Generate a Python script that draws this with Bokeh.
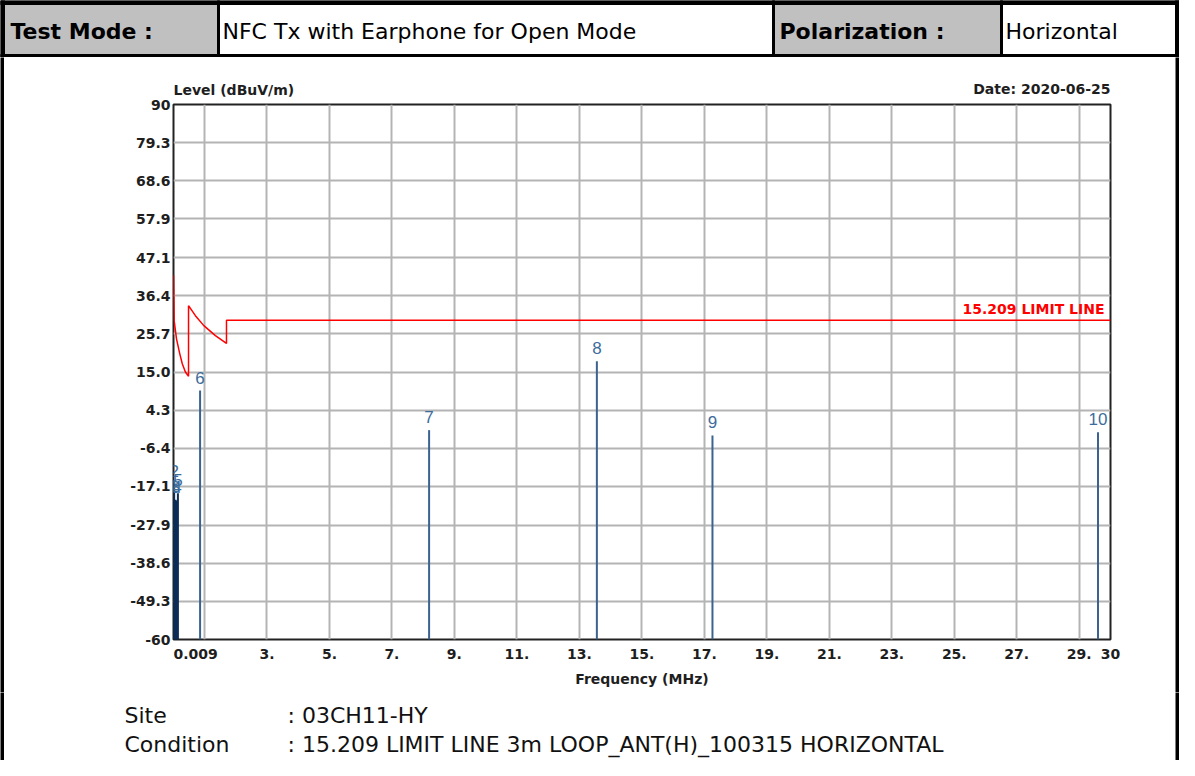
from bokeh.plotting import figure
from bokeh.layouts import column, row
from bokeh.models import Range1d, FixedTicker, Label, CustomJSTickFormatter
from bokeh.core.properties import value
from bokeh.embed import file_html
from bokeh.resources import INLINE

# ---------------- data ----------------
marker_ids = ["1", "2", "3", "4", "5", "6", "7", "8", "9", "10"]
marker_freq = [0.010, 0.030, 0.070, 0.120, 0.150, 0.86, 8.19, 13.56, 17.26, 29.60]
marker_level = [-20.5, -16.3, -20.8, -21.0, -19.0, 9.8, -1.3, 18.0, -2.8, -1.9]

limit_freq = [0.009, 0.03, 0.105, 0.21, 0.29, 0.39, 0.49, 0.49, 0.71, 0.98, 1.35, 1.705, 1.705, 30.0]
limit_level = [42.1, 29.4, 24.3, 20.1, 17.3, 15.0, 13.8, 33.6, 30.8, 28.0, 25.2, 23.0, 29.5, 29.5]

y_tick_values = [90, 79.3, 68.6, 57.9, 47.1, 36.4, 25.7, 15.0, 4.3, -6.4, -17.1, -27.9, -38.6, -49.3, -60]
y_tick_labels = ["90", "79.3", "68.6", "57.9", "47.1", "36.4", "25.7", "15.0", "4.3", "-6.4",
                 "-17.1", "-27.9", "-38.6", "-49.3", "-60"]
x_tick_values = [0.009, 3, 5, 7, 9, 11, 13, 15, 17, 19, 21, 23, 25, 27, 29, 30]
x_tick_labels = ["0.009", "3.", "5.", "7.", "9.", "11.", "13.", "15.", "17.", "19.", "21.", "23.",
                 "25.", "27.", "29.", "30"]
x_grid_values = [1, 3, 5, 7, 9, 11, 13, 15, 17, 19, 21, 23, 25, 27, 29]

header_texts = ["Test Mode :", "NFC Tx with Earphone for Open Mode", "Polarization :", "Horizontal"]
y_title = "Level (dBuV/m)"
date_text = "Date: 2020-06-25"
limit_name = "15.209 LIMIT LINE"
x_title = "Frequency (MHz)"
footer_names = ["Site", "Condition"]
footer_values = [": 03CH11-HY", ": 15.209 LIMIT LINE 3m LOOP_ANT(H)_100315 HORIZONTAL"]

AX_FONT = "DejaVu Sans"
DARK = "#1e1e1e"
W = 1179
INNER_W = 1171


def blank(w, h, xr, yr):
    f = figure(width=w, height=h, x_range=xr, y_range=yr, output_backend="svg",
               toolbar_location=None, x_axis_location=None, y_axis_location=None,
               min_border=0)
    f.outline_line_color = None
    f.grid.visible = False
    return f


# ---------------- header (pixel-space layout) ----------------
hdr = blank(W, 57, Range1d(0, W), Range1d(57, 0))
hdr.quad(left=[4, 774], right=[217, 1000], top=[4, 4], bottom=[54, 54], color="#c0c0c0")
hdr.quad(left=[0, 0, W - 4, 0, 217, 772, 1000],
         right=[W, 4, W, W, 219, 774, 1002],
         top=[0, 0, 0, 54, 0, 0, 0],
         bottom=[4, 57, 57, 57, 54, 54, 54], color="black")
hdr.text(x=[10, 779], y=[31, 31], text=[header_texts[0], header_texts[2]], text_baseline="middle",
         text_font=value(AX_FONT), text_font_style="bold", text_font_size="22px", text_color="black")
hdr.text(x=[222, 1005], y=[31, 31], text=[header_texts[1], header_texts[3]], text_baseline="middle",
         text_font=value(AX_FONT), text_font_size="22px", text_color="black")

# ---------------- chart ----------------
x_range = Range1d(0.009, 30)
p = figure(width=INNER_W, height=595, x_range=x_range, y_range=Range1d(-60, 90),
           output_backend="svg", toolbar_location=None,
           min_border_left=169, min_border_right=65, min_border_top=7, min_border_bottom=53)
p.background_fill_color = "white"
p.outline_line_color = "#222222"
p.outline_line_width = 2

p.xgrid.ticker = FixedTicker(ticks=x_grid_values)
p.ygrid.ticker = FixedTicker(ticks=y_tick_values)
p.grid.grid_line_color = "#b4b4b4"
p.grid.grid_line_width = 2

p.xaxis.ticker = FixedTicker(ticks=x_tick_values)
p.yaxis.ticker = FixedTicker(ticks=y_tick_values)
fmt_code = """
let best = 0; let d = 1e9;
for (let i = 0; i < vals.length; i++) { const e = Math.abs(vals[i] - tick); if (e < d) { d = e; best = i; } }
return labs[best];
"""
# first x label is left-aligned at the axis start: pad it on the left with
# figure/punctuation spaces of equal width so the centred label starts at the tick
x_labels_shown = ["\u2007\u2007\u2007\u2007\u2008" + x_tick_labels[0]] + x_tick_labels[1:]
p.xaxis.formatter = CustomJSTickFormatter(args=dict(vals=x_tick_values, labs=x_labels_shown), code=fmt_code)
p.yaxis.formatter = CustomJSTickFormatter(args=dict(vals=y_tick_values, labs=y_tick_labels), code=fmt_code)
for ax in (p.xaxis, p.yaxis):
    ax.axis_line_color = None
    ax.major_tick_line_color = None
    ax.minor_tick_line_color = None
    ax.major_tick_out = 0
    ax.major_tick_in = 0
    ax.minor_tick_out = 0
    ax.minor_tick_in = 0
    ax.major_label_text_font = AX_FONT
    ax.major_label_text_font_style = "bold"
    ax.major_label_text_font_size = "14px"
    ax.major_label_text_color = DARK
p.xaxis.major_label_standoff = 6
p.yaxis.major_label_standoff = 3
p.xaxis.axis_label = x_title
p.xaxis.axis_label_text_font = AX_FONT
p.xaxis.axis_label_text_font_style = "bold"
p.xaxis.axis_label_text_font_size = "14px"
p.xaxis.axis_label_text_color = DARK
p.xaxis.axis_label_standoff = 6

# limit line
p.line(limit_freq, limit_level, color="#ff0000", line_width=1.5)

# markers
mcolors = ["#0b2d57"] * 5 + ["#3b6390"] * 5
p.segment(x0=marker_freq, y0=[-60] * len(marker_freq), x1=marker_freq, y1=marker_level,
          color=mcolors, line_width=2)
p.text(x=marker_freq, y=marker_level, text=marker_ids, text_align="center", text_baseline="bottom",
       y_offset=-7, text_font=value("Liberation Sans"), text_font_size="17px", text_color="#3d6c9c")

p.add_layout(Label(x=30, y=29.5, text=limit_name, text_align="right", text_baseline="bottom",
                   x_offset=-6, y_offset=3,
                   text_font=AX_FONT, text_font_style="bold", text_font_size="14px", text_color="#ff0000"))

# ---------------- strip above the frame (shares the x scale) ----------------
strip = figure(width=INNER_W, height=40, x_range=x_range, y_range=Range1d(40, 0),
               output_backend="svg", toolbar_location=None, x_axis_location=None, y_axis_location=None,
               min_border_left=169, min_border_right=65, min_border_top=0, min_border_bottom=0)
strip.outline_line_color = None
strip.grid.visible = False
strip.text(x=[0.009], y=[32.5], text=[y_title], text_align="left", text_baseline="middle",
           text_font=value(AX_FONT), text_font_style="bold", text_font_size="14px", text_color=DARK)
strip.text(x=[30], y=[31], text=[date_text], text_align="right", text_baseline="middle",
           text_font=value(AX_FONT), text_font_style="bold", text_font_size="14px", text_color=DARK)

# ---------------- footer ----------------
ftr = blank(INNER_W, 68, Range1d(0, INNER_W), Range1d(68, 0))
ftr.text(x=[120, 120], y=[23, 52], text=footer_names, text_baseline="middle",
         text_font=value("DejaVu Sans"), text_font_size="22px", text_color="#111111")
ftr.text(x=[283, 283], y=[23, 52], text=footer_values, text_baseline="middle",
         text_font=value("DejaVu Sans"), text_font_size="22px", text_color="#111111")


# ---------------- side borders ----------------
def bar(h):
    b = blank(4, h, Range1d(0, 1), Range1d(0, 1))
    b.background_fill_color = "black"
    b.border_fill_color = "black"
    return b


layout = column(hdr,
                row(bar(635), column(strip, p), bar(635)),
                row(bar(68), ftr, bar(68)))

open("out.html", "w").write(file_html(layout, INLINE))
